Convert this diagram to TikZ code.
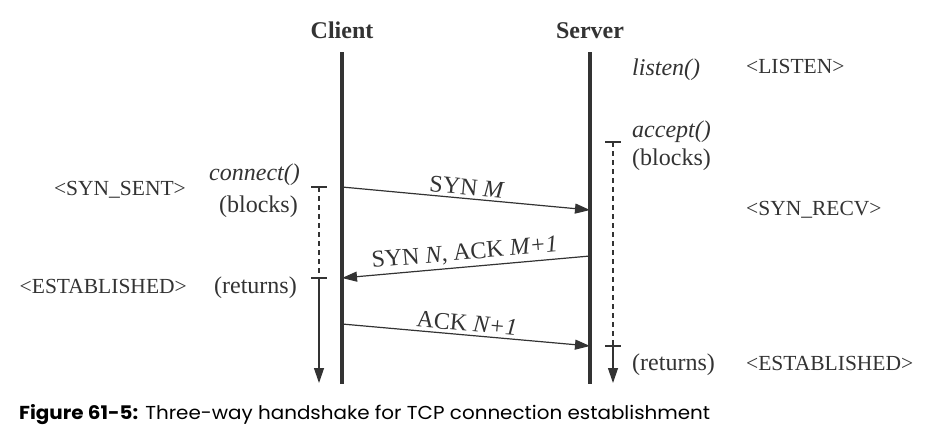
\documentclass[tikz,border=0pt]{standalone}
\usepackage{fontspec}
\setmainfont{Liberation Serif}
\newfontfamily\capfont{Poppins}
\usetikzlibrary{arrows.meta}
\definecolor{ink}{HTML}{333333}
\begin{document}
\begin{tikzpicture}[x=1pt,y=-1pt,
  lifeline/.style={draw=ink,line width=3.1pt},
  msg/.style={draw=ink,line width=1.2pt,-{Triangle[length=15pt,width=10pt]}},
  waitline/.style={draw=ink,line width=1.2pt,dash pattern=on 5pt off 4pt},
  runline/.style={draw=ink,line width=1.2pt,-{Triangle[length=15pt,width=10pt]}},
  tick/.style={draw=ink,line width=1.2pt},
  head/.style={font=\fontsize{24}{28}\selectfont\bfseries,text=ink,inner sep=0pt},
  fn/.style={font=\fontsize{24}{28}\selectfont\itshape,text=ink,inner sep=0pt},
  note/.style={font=\fontsize{24}{28}\selectfont,text=ink,inner sep=0pt},
  state/.style={font=\fontsize{21.5}{24}\selectfont,text=ink,inner sep=0pt},
  mlabel/.style={font=\fontsize{24}{28}\selectfont,text=ink,inner sep=3pt,sloped,above}
]
\useasboundingbox[fill=white] (0,0) rectangle (942,440);

% lifelines
\coordinate (ctop) at (342,52);
\coordinate (cbot) at (342,384);
\coordinate (stop) at (590,52);
\coordinate (sbot) at (590,384);
\draw[lifeline] (ctop) -- (cbot);
\draw[lifeline] (stop) -- (sbot);
\node[head,anchor=base] (client) at (342,38) {Client};
\node[head,anchor=base] (server) at (590,38) {Server};

% message end points
\coordinate (c1) at (342,187);
\coordinate (s1) at (590,210);
\coordinate (s2) at (590,256);
\coordinate (c2) at (342,278);
\coordinate (c3) at (342,324);
\coordinate (s3) at (590,346);

\draw[msg] (c1) -- node[mlabel] (m1) {SYN \textit{M}} (s1);
\draw[msg] (s2) -- node[mlabel] (m2) {SYN \textit{N}, ACK \textit{M+1}} (c2);
\draw[msg] (c3) -- node[mlabel] (m3) {ACK \textit{N+1}} (s3);

% client blocking bar
\coordinate (cw1) at (319,187);
\coordinate (cw2) at (319,278);
\coordinate (cw3) at (319,383);
\coordinate (cw1l) at (311,187);
\coordinate (cw1r) at (327,187);
\coordinate (cw2l) at (311,278);
\coordinate (cw2r) at (327,278);
\draw[tick] (cw1l) -- (cw1r);
\draw[tick] (cw2l) -- (cw2r);
\draw[waitline] (cw1) -- (cw2);
\draw[runline] (cw2) -- (cw3);

% server blocking bar
\coordinate (sw1) at (613,142);
\coordinate (sw2) at (613,346);
\coordinate (sw3) at (613,383);
\coordinate (sw1l) at (605,142);
\coordinate (sw1r) at (621,142);
\coordinate (sw2l) at (605,346);
\coordinate (sw2r) at (621,346);
\draw[tick] (sw1l) -- (sw1r);
\draw[tick] (sw2l) -- (sw2r);
\draw[waitline] (sw1) -- (sw2);
\draw[runline] (sw2) -- (sw3);

% server side texts
\node[fn,anchor=base west] (listen) at (632,75) {listen()};
\node[state,anchor=base west] (slisten) at (746,73) {<LISTEN>};
\node[fn,anchor=base west] (accept) at (632,137) {accept()};
\node[note,anchor=base west] (sblocks) at (632,165) {(blocks)};
\node[state,anchor=base west] (ssynrecv) at (746,215) {<SYN\_RECV>};
\node[note,anchor=base west] (sreturns) at (632,370) {(returns)};
\node[state,anchor=base west] (sestab) at (746,370) {<ESTABLISHED>};

% client side texts
\node[fn,anchor=base east] (connect) at (300,180) {connect()};
\node[note,anchor=base east] (cblocks) at (298,212) {(blocks)};
\node[state,anchor=base east] (csynsent) at (186,195) {<SYN\_SENT>};
\node[note,anchor=base east] (creturns) at (297,293) {(returns)};
\node[state,anchor=base east] (cestab) at (187,293) {<ESTABLISHED>};

% caption
\node[anchor=base west,inner sep=0pt,text=black] (caption) at (19,419)
  {\resizebox{691pt}{15pt}{\capfont\fontsize{20}{24}\selectfont\textbf{Figure 61-5:} Three-way handshake for TCP connection establishment}};
\end{tikzpicture}
\end{document}
